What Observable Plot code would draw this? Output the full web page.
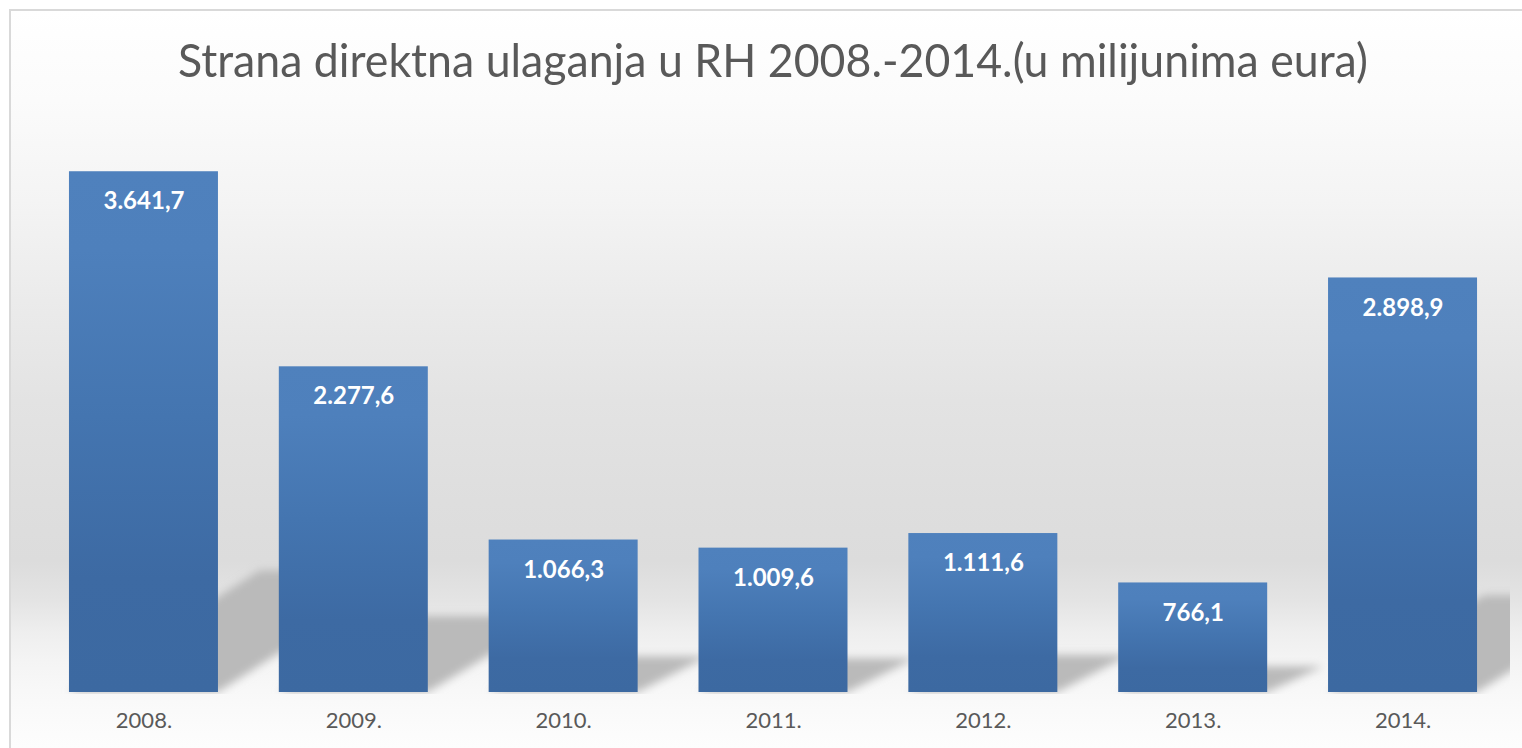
<!DOCTYPE html>
<html><head><meta charset="utf-8">
<script src="https://cdn.jsdelivr.net/npm/d3@7"></script>
<script src="https://cdn.jsdelivr.net/npm/@observablehq/plot@0.6"></script>
<style>
html,body{margin:0;padding:0;background:#fff;width:1522px;height:748px;overflow:hidden;}
#frame{position:absolute;left:9px;top:9px;width:1600px;height:800px;border:2px solid #d9d9d9;
  background:linear-gradient(to bottom,#ffffff 0px,#fbfbfb 90px,#f4f4f4 190px,#ebebeb 290px,#e3e3e3 390px,#dedede 490px,#dcdcdc 550px,#e4e4e4 590px,#eeeeee 620px,#f4f4f4 650px,#f8f8f8 680px,#fbfbfb 710px,#fdfdfd 737px);}
#title{position:absolute;left:0;top:37px;width:1546px;text-align:center;font-family:Lato,sans-serif;font-size:46px;line-height:1;color:#595959;white-space:nowrap;}
#title span{display:inline-block;transform-origin:50% 50%;}
#chart{position:absolute;left:0;top:100px;}
</style></head><body>
<div id="frame"></div>
<div id="title"><span>Strana direktna ulaganja u RH 2008.-2014.(u milijunima eura)</span></div>
<div id="chart"></div>
<script>
const years = ["2008.", "2009.", "2010.", "2011.", "2012.", "2013.", "2014."];
const fdi = [3641.7, 2277.6, 1066.3, 1009.6, 1111.6, 766.1, 2898.9];

const data = years.map((year, i) => ({year, value: fdi[i]}));
const hr = d3.formatLocale({decimal: ",", thousands: ".", grouping: [3], currency: ["", " €"]});
const fmt = hr.format(",.1f");

const NS = "http://www.w3.org/2000/svg";
function el(name, attrs) {
  const e = document.createElementNS(NS, name);
  for (const k in attrs) e.setAttribute(k, attrs[k]);
  return e;
}

const defsMark = (index, scales, values, dims) => {
  const defs = el("defs", {});
  const grad = el("linearGradient", {id: "barGrad", x1: 0, y1: 0, x2: 0, y2: 1});
  [["0%", "#4f81bd"], ["15%", "#4e80bc"], ["47%", "#4475b0"], ["78%", "#3d6aa3"], ["100%", "#3c69a1"]]
    .forEach(([o, c]) => grad.append(el("stop", {offset: o, "stop-color": c})));
  const filt = el("filter", {id: "shBlur", x: "-50%", y: "-50%", width: "200%", height: "200%"});
  filt.append(el("feGaussianBlur", {stdDeviation: 4}));
  const clip = el("clipPath", {id: "plotClip"});
  clip.append(el("rect", {x: 0, y: 0, width: dims.width - 12, height: dims.height - dims.marginBottom + 2}));
  defs.append(grad, filt, clip);
  return defs;
};

const shadowMark = (index, scales, values, dims) => {
  const {x, y} = scales;
  const bw = x.bandwidth ? x.bandwidth() : Math.abs(x(years[1]) - x(years[0])) * 0.71;
  const g = el("g", {"clip-path": "url(#plotClip)"});
  const inner = el("g", {filter: "url(#shBlur)"});
  g.append(inner);
  data.forEach(d => {
    const x0 = x(d.year), x1 = x0 + bw, y0 = y(0);
    const h = y0 - y(d.value);
    const hs = 0.234 * h;
    const dx = 1.4 * hs + 20;
    const pts = [[x0, y0], [x1, y0], [x1 + dx, y0 - hs], [x0 + dx, y0 - hs]];
    inner.append(el("polygon", {points: pts.map(p => p.join(",")).join(" "), fill: "#bababa"}));
  });
  return g;
};

const chart = Plot.plot({
  width: 1522,
  height: 648,
  marginTop: 20,
  marginBottom: 56,
  marginLeft: 40,
  marginRight: 16,
  style: {background: "transparent", color: "#595959", fontFamily: "Lato, sans-serif", overflow: "visible"},
  x: {domain: years, paddingInner: 0.29, paddingOuter: 0.138, round: false},
  y: {domain: [0, 4000], axis: null},
  marks: [
    defsMark,
    shadowMark,
    Plot.barY(data, {x: "year", y: "value", fill: "url(#barGrad)"}),
    Plot.text(data, {x: "year", y: "value", text: d => fmt(d.value), dy: 30, lineAnchor: "middle",
      fill: "white", fontWeight: "bold", fontSize: 24}),
    Plot.axisX({tickSize: 0, tickPadding: 20, fontSize: 22, label: null})
  ]
});
document.getElementById("chart").append(chart);

const span = document.querySelector("#title span");
const w = span.getBoundingClientRect().width;
span.style.transform = `scaleX(${1190 / w})`;
</script>
</body></html>
